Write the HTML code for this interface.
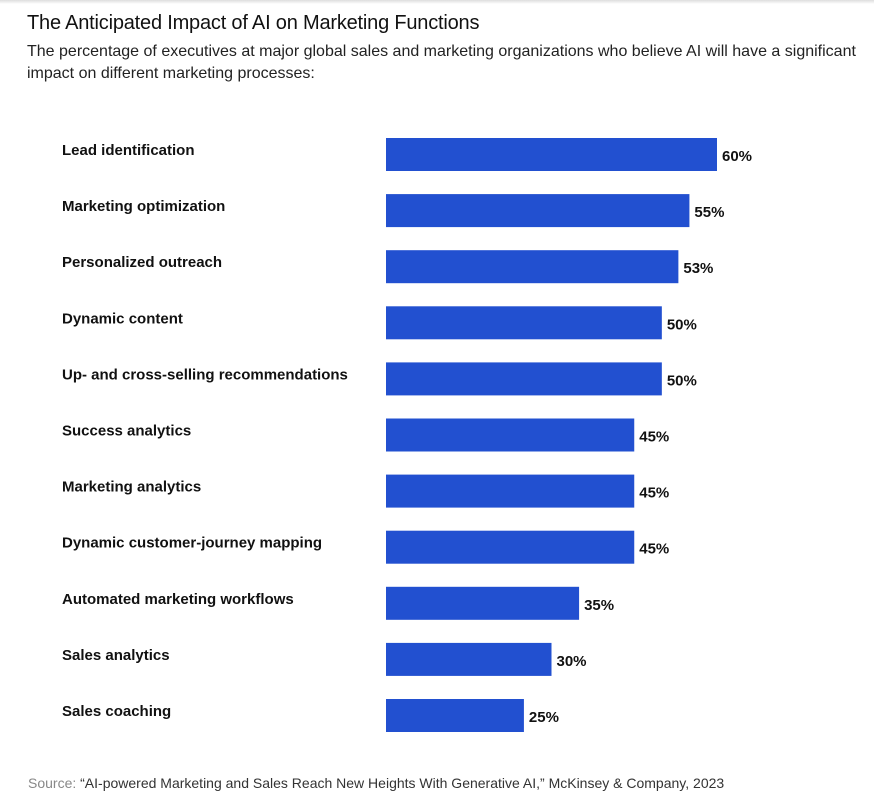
<!DOCTYPE html>
<html><head><meta charset="utf-8"><style>
body{margin:0;background:#fff;width:874px;height:798px;overflow:hidden;font-family:"Liberation Sans",Arial,sans-serif;}
.top{position:absolute;left:0;top:0;width:874px;height:4px;background:linear-gradient(#ddd,#fff);}
h1{position:absolute;left:27px;top:12px;margin:0;font-size:20px;font-weight:normal;color:#111;letter-spacing:-0.2px;}
.sub{position:absolute;left:27px;top:41px;width:840px;margin:0;font-size:16px;line-height:22px;color:#222;}
.src{position:absolute;left:28px;top:775px;font-size:14px;color:#333;}
.src span{color:#888;}
svg{position:absolute;left:0;top:0;}
</style></head><body>
<div class="top"></div>
<h1>The Anticipated Impact of AI on Marketing Functions</h1>
<p class="sub">The percentage of executives at major global sales and marketing organizations who believe AI will have a significant impact on different marketing processes:</p>
<svg id="chart" width="874" height="798"></svg>
<div class="src"><span>Source:</span> “AI-powered Marketing and Sales Reach New Heights With Generative AI,” McKinsey &amp; Company, 2023</div>
<script>
const categories=["Lead identification","Marketing optimization","Personalized outreach","Dynamic content","Up- and cross-selling recommendations","Success analytics","Marketing analytics","Dynamic customer-journey mapping","Automated marketing workflows","Sales analytics","Sales coaching"];
const values=[60,55,53,50,50,45,45,45,35,30,25];
const valueLabels=["60%","55%","53%","50%","50%","45%","45%","45%","35%","30%","25%"];
const NS="http://www.w3.org/2000/svg";
const svg=document.getElementById('chart');
const x0=386, pxPer=331/60, y0=138, step=56.1, bh=33;
const xs=v=>v*pxPer;
const ys=i=>y0+i*step;
categories.forEach((c,i)=>{
  const y=ys(i);
  const t=document.createElementNS(NS,'text');
  
  
  t.setAttribute('x',62);t.setAttribute('y',y+17);
  t.setAttribute('font-size','15');t.setAttribute('font-weight','bold');t.setAttribute('fill','#111');
  t.textContent=c;svg.appendChild(t);
  const r=document.createElementNS(NS,'rect');
  
  
  r.setAttribute('x',x0);r.setAttribute('y',y);r.setAttribute('width',xs(values[i]));r.setAttribute('height',bh);
  r.setAttribute('fill','#2250D0');svg.appendChild(r);
  const v=document.createElementNS(NS,'text');
  
  
  v.setAttribute('x',x0+xs(values[i])+5);v.setAttribute('y',y+23);
  v.setAttribute('font-size','15');v.setAttribute('font-weight','bold');v.setAttribute('fill','#111');
  v.textContent=valueLabels[i];svg.appendChild(v);
});
</script>
</body></html>
